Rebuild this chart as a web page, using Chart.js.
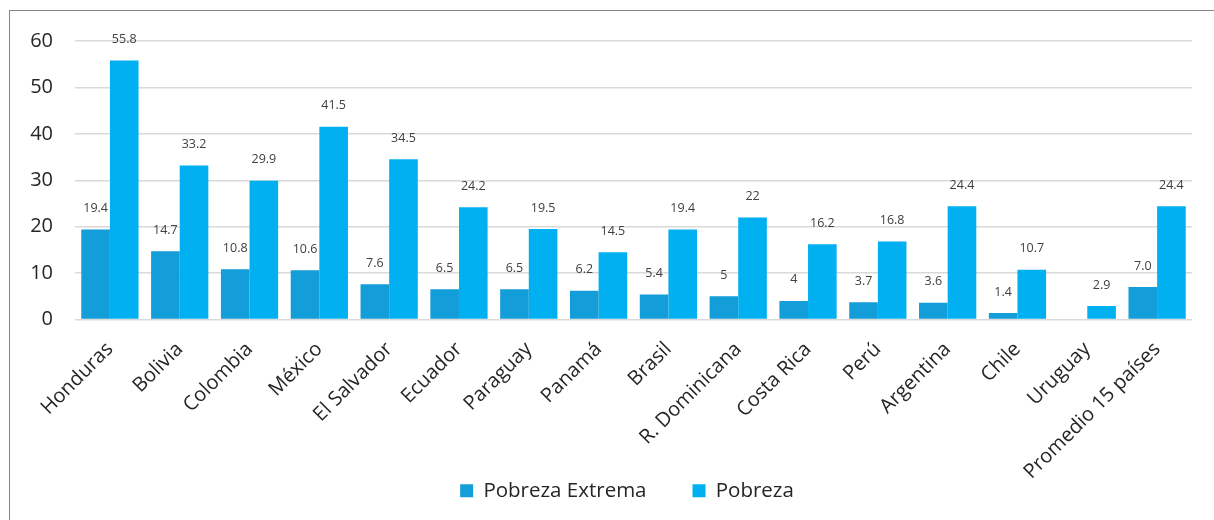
<!DOCTYPE html>
<html>
<head>
<meta charset="utf-8">
<script src="https://cdn.jsdelivr.net/npm/chart.js@4/dist/chart.umd.min.js"></script>
<style>
  html, body { margin: 0; padding: 0; background: #fff; }
  #wrap { position: absolute; left: 0; top: 0; width: 1214px; height: 520px; }
</style>
</head>
<body>
<div id="wrap"><canvas id="c" width="1214" height="520"></canvas></div>
<script>
// Countries, ordered by extreme poverty rate
const countries = ['Honduras', 'Bolivia', 'Colombia', 'México', 'El Salvador', 'Ecuador', 'Paraguay', 'Panamá', 'Brasil', 'R. Dominicana', 'Costa Rica', 'Perú', 'Argentina', 'Chile', 'Uruguay', 'Promedio 15 países'];

// Rates as printed above each bar (null = no data)
const extremeText = ['19.4', '14.7', '10.8', '10.6', '7.6', '6.5', '6.5', '6.2', '5.4', '5', '4', '3.7', '3.6', '1.4', null, '7.0'];
const povertyText = ['55.8', '33.2', '29.9', '41.5', '34.5', '24.2', '19.5', '14.5', '19.4', '22', '16.2', '16.8', '24.4', '10.7', '2.9', '24.4'];

const extremeValues = extremeText.map(t => t === null ? null : parseFloat(t));
const povertyValues = povertyText.map(t => t === null ? null : parseFloat(t));

const yTicks = [0, 10, 20, 30, 40, 50, 60];

const FONT = '"Open Sans", Lato, sans-serif';

// Value labels above each bar
const valueLabels = {
  id: 'valueLabels',
  afterDatasetsDraw(chart) {
    const ctx = chart.ctx;
    ctx.save();
    ctx.font = '12.5px ' + FONT;
    ctx.fillStyle = '#404040';
    ctx.textAlign = 'center';
    ctx.textBaseline = 'middle';
    chart.data.datasets.forEach((ds, di) => {
      const meta = chart.getDatasetMeta(di);
      meta.data.forEach((bar, i) => {
        const txt = ds.labelText[i];
        if (txt === null || txt === undefined) return;
        ctx.fillText(txt, bar.x, bar.y - 21);
      });
    });
    ctx.restore();
  }
};

// Thin outer frame
const frame = {
  id: 'frame',
  beforeDraw(chart) {
    const ctx = chart.ctx;
    ctx.save();
    ctx.strokeStyle = '#858585';
    ctx.lineWidth = 1;
    ctx.strokeRect(9.5, 10.5, 1300, 600);
    ctx.restore();
  }
};

// Let the slanted category labels run down beside the legend,
// and centre the legend under the plot area
const layoutTweaks = {
  id: 'layoutTweaks',
  afterLayout(chart) {
    const x = chart.scales.x;
    x.bottom = chart.height;
    x.height = x.bottom - x.top;
    chart.legend.left = 62;
  }
};

new Chart(document.getElementById('c'), {
  type: 'bar',
  data: {
    labels: countries,
    datasets: [
      {
        label: 'Pobreza Extrema',
        data: extremeValues,
        labelText: extremeText,
        backgroundColor: '#139dd9',
        categoryPercentage: 0.82,
        barPercentage: 1.0
      },
      {
        label: 'Pobreza',
        data: povertyValues,
        labelText: povertyText,
        backgroundColor: '#00b0f0',
        categoryPercentage: 0.82,
        barPercentage: 1.0
      }
    ]
  },
  options: {
    responsive: false,
    animation: false,
    layout: { padding: { left: 0, right: 22, top: 41, bottom: 9 } },
    plugins: {
      legend: {
        position: 'bottom',
        labels: {
          boxWidth: 13,
          boxHeight: 13,
          padding: 46,
          color: '#262626',
          font: { family: FONT, size: 20.5 }
        }
      },
      tooltip: { enabled: false }
    },
    scales: {
      x: {
        grid: { display: false },
        border: { display: false },
        ticks: {
          minRotation: 45,
          maxRotation: 45,
          padding: 10,
          color: '#262626',
          font: { family: FONT, size: 20 }
        },
        afterFit(scale) { scale.height = 115; }
      },
      y: {
        min: 0,
        max: 60,
        afterBuildTicks(scale) { scale.ticks = yTicks.map(v => ({ value: v })); },
        grid: { color: '#d9d9d9', lineWidth: 1.5, drawTicks: false },
        border: { display: false },
        ticks: {
          padding: 22,
          color: '#262626',
          font: { family: FONT, size: 20 }
        },
        afterFit(scale) { scale.width = 75; }
      }
    }
  },
  plugins: [frame, layoutTweaks, valueLabels]
});
</script>
</body>
</html>
